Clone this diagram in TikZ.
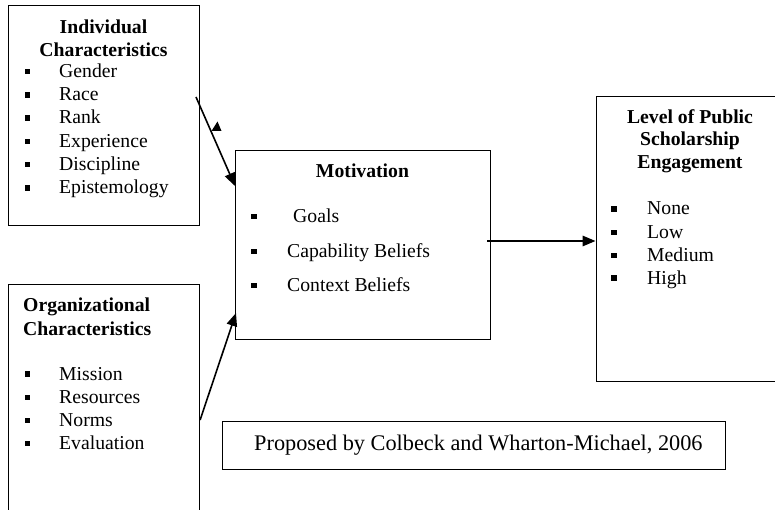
\documentclass[tikz,border=0pt]{standalone}
\usepackage{fontspec}
\setmainfont{Liberation Serif}
\usetikzlibrary{arrows.meta}
\tikzset{
  box/.style={draw=black, line width=1.1pt, inner sep=0pt, anchor=north west},
  itm/.style={anchor=base west, inner sep=0pt, font=\fontsize{19.7}{23}\selectfont},
  hdr/.style={anchor=base, inner sep=0pt, font=\fontsize{19.7}{23}\selectfont\bfseries},
  hdrl/.style={anchor=base west, inner sep=0pt, font=\fontsize{19.7}{23}\selectfont\bfseries},
  bul/.style={fill=black, inner sep=0pt, minimum size=5.5pt, draw=none},
  conn/.style={line width=1.6pt, -{Triangle[length=13pt,width=10.5pt]}}
}
\begin{document}
\begin{tikzpicture}[x=1pt,y=-1pt]
\useasboundingbox (0,0) rectangle (775,510);
\clip (0,0) rectangle (775,510);
% boxes
\node[box, minimum width=191pt, minimum height=220pt] (ind) at (8,5) {};
\node[box, minimum width=191.5pt, minimum height=240pt] (org) at (7.5,284) {};
\node[box, minimum width=255pt, minimum height=189pt] (mot) at (235,150) {};
\node[box, minimum width=200pt, minimum height=285pt] (lev) at (595.5,96) {};
\node[box, minimum width=503pt, minimum height=48.5pt] (prop) at (222.3,420.7) {};
% Individual
\node[hdr] (i1) at (103.5,33.3) {Individual};
\node[hdr] (i2) at (103.5,56.7) {Characteristics};
\node[itm] (g1) at (59,77.5) {Gender};
\node[itm] (g2) at (59,100.8) {Race};
\node[itm] (g3) at (59,124) {Rank};
\node[itm] (g4) at (59,147.3) {Experience};
\node[itm] (g5) at (59,170.6) {Discipline};
\node[itm] (g6) at (59,193.8) {Epistemology};
\node[bul] (b1) at (27.5,71.5) {};
\node[bul] (b2) at (27.5,94.8) {};
\node[bul] (b3) at (27.5,118) {};
\node[bul] (b4) at (27.5,141.3) {};
\node[bul] (b5) at (27.5,164.6) {};
\node[bul] (b6) at (27.5,187.8) {};
% Organizational
\node[hdrl] (o1) at (23,311.7) {Organizational};
\node[hdrl] (o2) at (23,335.7) {Characteristics};
\node[itm] (h1) at (59,380) {Mission};
\node[itm] (h2) at (59,403.3) {Resources};
\node[itm] (h3) at (59,426.7) {Norms};
\node[itm] (h4) at (59,449.3) {Evaluation};
\node[bul] (c1) at (27.5,374) {};
\node[bul] (c2) at (27.5,397.3) {};
\node[bul] (c3) at (27.5,420.7) {};
\node[bul] (c4) at (27.5,443.3) {};
% Motivation
\node[hdr] (m0) at (362.5,177.7) {Motivation};
\node[itm] (m1) at (293,222.7) {Goals};
\node[itm] (m2) at (287,257.7) {Capability Beliefs};
\node[itm] (m3) at (287,291.7) {Context Beliefs};
\node[bul] (d1) at (254,216.7) {};
\node[bul] (d2) at (254,251.7) {};
\node[bul] (d3) at (254,285.7) {};
% Level
\node[hdr] (l1) at (690,123.3) {Level of Public};
\node[hdr] (l2) at (690,145.8) {Scholarship};
\node[hdr] (l3) at (690,168.3) {Engagement};
\node[itm] (n1) at (647,215) {None};
\node[itm] (n2) at (647,238.3) {Low};
\node[itm] (n3) at (647,261.7) {Medium};
\node[itm] (n4) at (647,284) {High};
\node[bul] (e1) at (614,209) {};
\node[bul] (e2) at (614,232.3) {};
\node[bul] (e3) at (614,255.7) {};
\node[bul] (e4) at (614,278) {};
% Proposed
\node[anchor=base west, inner sep=0pt, font=\fontsize{22.3}{26}\selectfont] (pt) at (254,450) {Proposed by Colbeck and Wharton-Michael, 2006};
% connectors
\coordinate (s1) at (196,97);
\coordinate (t1) at (mot.north west |- 0,186);
\coordinate (s2) at (org.north east |- 0,420);
\coordinate (t2) at (236,313);
\coordinate (s3) at (487,241);
\coordinate (t3) at (lev.north west |- 0,241);
\draw[conn] (s1) -- (t1);
\draw[conn] (s2) -- (t2);
\draw[conn] (s3) -- (t3);
\coordinate (tr1) at (211.5,131);
\coordinate (tr2) at (221.5,131);
\coordinate (tr3) at (217.5,121.5);
\fill (tr1) -- (tr2) -- (tr3) -- cycle;
\end{tikzpicture}
\end{document}
